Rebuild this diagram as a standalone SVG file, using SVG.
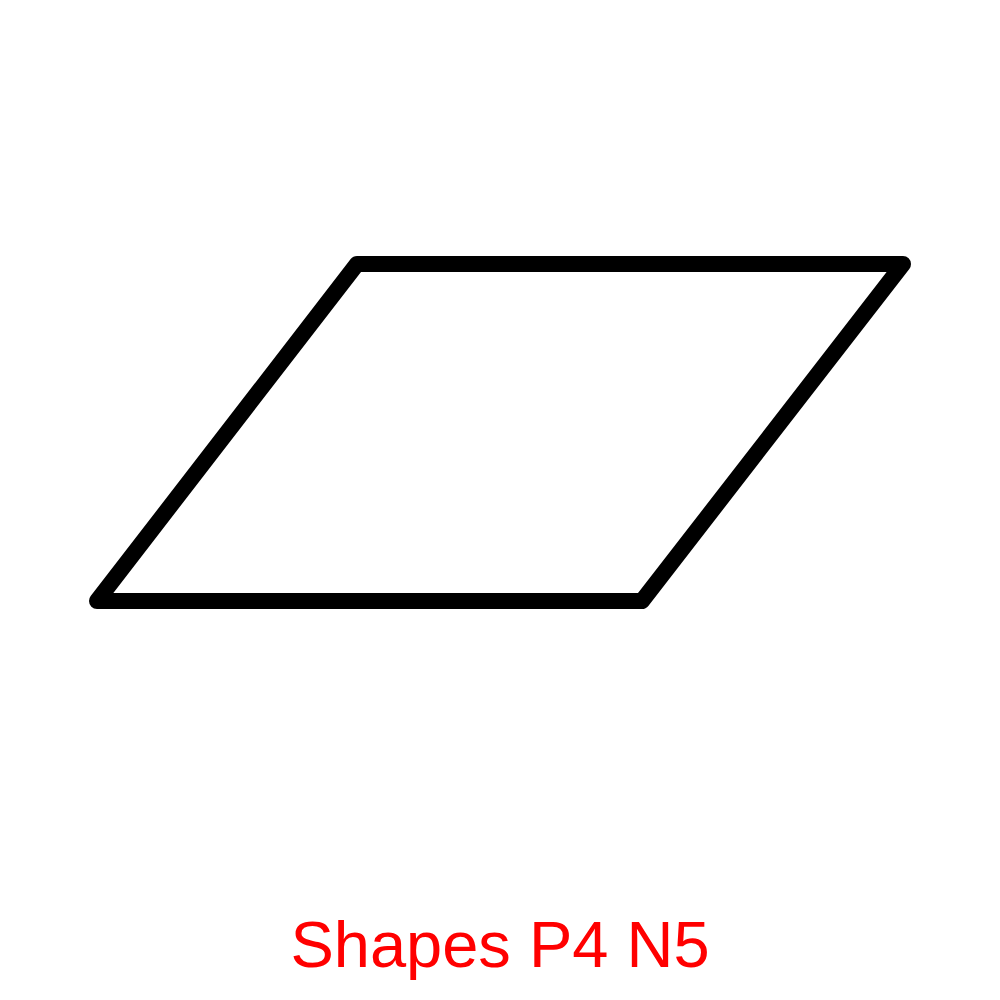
<svg xmlns="http://www.w3.org/2000/svg" width="1000" height="1000" viewBox="0 0 1000 1000">
<style>
.shape{fill:none;stroke:#000;stroke-width:16;stroke-linejoin:round;stroke-linecap:round}
.label{font-family:"Liberation Sans",Arial,sans-serif;font-size:65px;fill:#ff0000;text-anchor:middle}
</style>
<rect width="1000" height="1000" fill="#fff"/>
<g id="parallelogram">
<polygon class="shape" points="357,264 903,264 642,601 97,601"/>
</g>
<g id="connectors"></g>
<text class="label" x="500" y="967">Shapes P4 N5</text>
</svg>
